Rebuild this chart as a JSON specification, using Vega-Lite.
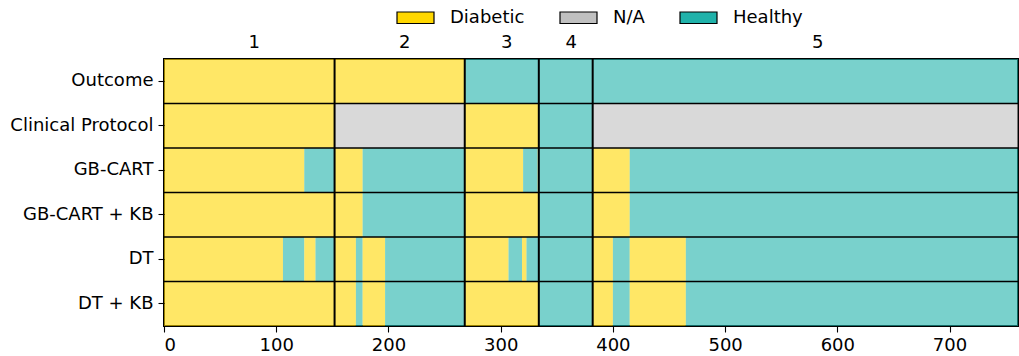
{
  "$schema": "https://vega.github.io/schema/vega-lite/v6.json",
  "width": 854,
  "height": 267,
  "autosize": "none",
  "padding": {"left": 164, "top": 59, "right": 1, "bottom": 30},
  "config": {
    "view": {"stroke": "black", "strokeWidth": 2},
    "font": "DejaVu Sans",
    "axis": {"labelFont": "DejaVu Sans", "labelFontSize": 18, "labelColor": "black", "tickColor": "black", "grid": false, "domain": false}
  },
  "datasets": {
    "segments": [
      {"row": "Outcome", "start": 0, "end": 268, "status": "Diabetic"},
      {"row": "Outcome", "start": 268, "end": 761, "status": "Healthy"},
      {"row": "Clinical Protocol", "start": 0, "end": 152, "status": "Diabetic"},
      {"row": "Clinical Protocol", "start": 152, "end": 268, "status": "N/A"},
      {"row": "Clinical Protocol", "start": 268, "end": 334, "status": "Diabetic"},
      {"row": "Clinical Protocol", "start": 334, "end": 382, "status": "Healthy"},
      {"row": "Clinical Protocol", "start": 382, "end": 761, "status": "N/A"},
      {"row": "GB-CART", "start": 0, "end": 125, "status": "Diabetic"},
      {"row": "GB-CART", "start": 125, "end": 152, "status": "Healthy"},
      {"row": "GB-CART", "start": 152, "end": 177, "status": "Diabetic"},
      {"row": "GB-CART", "start": 177, "end": 268, "status": "Healthy"},
      {"row": "GB-CART", "start": 268, "end": 320, "status": "Diabetic"},
      {"row": "GB-CART", "start": 320, "end": 333, "status": "Healthy"},
      {"row": "GB-CART", "start": 333, "end": 334, "status": "Diabetic"},
      {"row": "GB-CART", "start": 334, "end": 382, "status": "Healthy"},
      {"row": "GB-CART", "start": 382, "end": 415, "status": "Diabetic"},
      {"row": "GB-CART", "start": 415, "end": 761, "status": "Healthy"},
      {"row": "GB-CART + KB", "start": 0, "end": 177, "status": "Diabetic"},
      {"row": "GB-CART + KB", "start": 177, "end": 268, "status": "Healthy"},
      {"row": "GB-CART + KB", "start": 268, "end": 334, "status": "Diabetic"},
      {"row": "GB-CART + KB", "start": 334, "end": 382, "status": "Healthy"},
      {"row": "GB-CART + KB", "start": 382, "end": 415, "status": "Diabetic"},
      {"row": "GB-CART + KB", "start": 415, "end": 761, "status": "Healthy"},
      {"row": "DT", "start": 0, "end": 106, "status": "Diabetic"},
      {"row": "DT", "start": 106, "end": 125, "status": "Healthy"},
      {"row": "DT", "start": 125, "end": 135, "status": "Diabetic"},
      {"row": "DT", "start": 135, "end": 152, "status": "Healthy"},
      {"row": "DT", "start": 152, "end": 171, "status": "Diabetic"},
      {"row": "DT", "start": 171, "end": 177, "status": "Healthy"},
      {"row": "DT", "start": 177, "end": 197, "status": "Diabetic"},
      {"row": "DT", "start": 197, "end": 268, "status": "Healthy"},
      {"row": "DT", "start": 268, "end": 307, "status": "Diabetic"},
      {"row": "DT", "start": 307, "end": 319, "status": "Healthy"},
      {"row": "DT", "start": 319, "end": 323, "status": "Diabetic"},
      {"row": "DT", "start": 323, "end": 382, "status": "Healthy"},
      {"row": "DT", "start": 382, "end": 400, "status": "Diabetic"},
      {"row": "DT", "start": 400, "end": 415, "status": "Healthy"},
      {"row": "DT", "start": 415, "end": 465, "status": "Diabetic"},
      {"row": "DT", "start": 465, "end": 761, "status": "Healthy"},
      {"row": "DT + KB", "start": 0, "end": 171, "status": "Diabetic"},
      {"row": "DT + KB", "start": 171, "end": 177, "status": "Healthy"},
      {"row": "DT + KB", "start": 177, "end": 197, "status": "Diabetic"},
      {"row": "DT + KB", "start": 197, "end": 268, "status": "Healthy"},
      {"row": "DT + KB", "start": 268, "end": 334, "status": "Diabetic"},
      {"row": "DT + KB", "start": 334, "end": 382, "status": "Healthy"},
      {"row": "DT + KB", "start": 382, "end": 400, "status": "Diabetic"},
      {"row": "DT + KB", "start": 400, "end": 415, "status": "Healthy"},
      {"row": "DT + KB", "start": 415, "end": 465, "status": "Diabetic"},
      {"row": "DT + KB", "start": 465, "end": 761, "status": "Healthy"}
    ],
    "groups": [
      {"pos": 152},
      {"pos": 268},
      {"pos": 334},
      {"pos": 382}
    ],
    "rowlines": [
      {"row": "Clinical Protocol"},
      {"row": "GB-CART"},
      {"row": "GB-CART + KB"},
      {"row": "DT"},
      {"row": "DT + KB"}
    ]
  },
  "layer": [
    {
      "data": {"name": "segments"},
      "mark": {"type": "rect", "opacity": 0.6},
      "encoding": {
        "x": {"field": "start", "type": "quantitative", "scale": {"domain": [0, 761], "nice": false, "zero": false},
              "axis": {"orient": "bottom", "values": [0, 100, 200, 300, 400, 500, 600, 700], "title": null, "tickSize": 6, "tickWidth": 1.1, "labelPadding": 4, "labelFontSize": 18}},
        "x2": {"field": "end"},
        "y": {"field": "row", "type": "nominal",
              "sort": ["Outcome", "Clinical Protocol", "GB-CART", "GB-CART + KB", "DT", "DT + KB"],
              "scale": {"paddingInner": 0, "paddingOuter": 0},
              "axis": {"title": null, "tickSize": 6, "tickWidth": 1.1, "labelPadding": 5, "labelFontSize": 18}},
        "color": {"field": "status", "type": "nominal",
                  "scale": {"domain": ["Diabetic", "N/A", "Healthy"], "range": ["#FFD700", "#C0C0C0", "#20B2AA"]},
                  "legend": {"title": null, "orient": "none", "direction": "horizontal", "legendX": 232, "legendY": -61,
                             "padding": 0, "symbolType": "M-1,-0.31H1V0.31H-1Z", "symbolSize": 1369,
                             "symbolOpacity": 1, "symbolStrokeColor": "black", "symbolStrokeWidth": 1.2,
                             "labelFont": "DejaVu Sans", "labelFontSize": 18, "labelColor": "black",
                             "labelOffset": 15, "columnPadding": 32}}
      }
    },
    {
      "data": {"name": "rowlines"},
      "mark": {"type": "rule", "color": "black", "strokeWidth": 1.5},
      "encoding": {
        "y": {"field": "row", "type": "nominal", "bandPosition": 0,
              "sort": ["Outcome", "Clinical Protocol", "GB-CART", "GB-CART + KB", "DT", "DT + KB"],
              "scale": {"paddingInner": 0, "paddingOuter": 0},
              "axis": {"title": null, "tickSize": 6, "tickWidth": 1.1, "labelPadding": 5, "labelFontSize": 18}}
      }
    },
    {
      "data": {"name": "groups"},
      "mark": {"type": "rule", "color": "black", "strokeWidth": 2},
      "encoding": {
        "x": {"field": "pos", "type": "quantitative", "scale": {"domain": [0, 761], "nice": false, "zero": false},
              "axis": {"orient": "top", "values": [80, 214, 305, 362.5, 582], "title": null, "ticks": false, "tickSize": 0, "labelPadding": 8, "labelFontSize": 18,
                       "labelExpr": "datum.value == 80 ? '1' : datum.value == 214 ? '2' : datum.value == 305 ? '3' : datum.value == 362.5 ? '4' : '5'"}}
      }
    }
  ],
  "resolve": {"axis": {"x": "independent"}}
}
